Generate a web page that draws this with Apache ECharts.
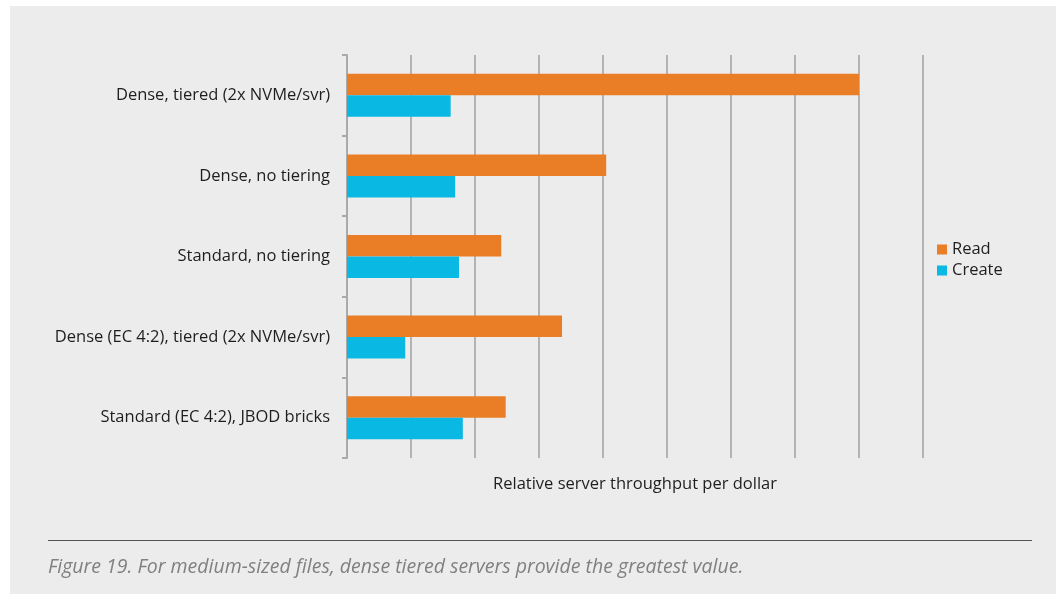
<!DOCTYPE html>
<html>
<head>
<meta charset="utf-8">
<script src="https://cdn.jsdelivr.net/npm/echarts@6/dist/echarts.min.js"></script>
<style>
html,body{margin:0;padding:0;background:#ffffff;}
#chart{width:1059px;height:596px;}
</style>
</head>
<body>
<div id="chart"></div>
<script>
const categories = [
  "Dense, tiered (2x NVMe/svr)",
  "Dense, no tiering",
  "Standard, no tiering",
  "Dense (EC 4:2), tiered (2x NVMe/svr)",
  "Standard (EC 4:2), JBOD bricks"
];
const readValues = [8.0, 4.05, 2.41, 3.36, 2.48];
const createValues = [1.62, 1.69, 1.75, 0.91, 1.81];
const seriesNames = ["Read", "Create"];
const axisTitle = "Relative server throughput per dollar";
const caption = "Figure 19. For medium-sized files, dense tiered servers provide the greatest value.";

const chart = echarts.init(document.getElementById('chart'), null, {renderer: 'canvas'});
const font = "'Open Sans', sans-serif";
chart.setOption({
  backgroundColor: '#ffffff',
  animation: false,
  textStyle: {fontFamily: font},
  graphic: [
    {type: 'rect', z: -10, silent: true, shape: {x: 10, y: 6, width: 1046, height: 588}, style: {fill: '#ececec'}},
    {type: 'line', silent: true, shape: {x1: 48, y1: 540.5, x2: 1032, y2: 540.5}, style: {stroke: '#555555', lineWidth: 1}},
    {type: 'text', silent: true, left: 48, top: 557, style: {text: caption, fill: '#808080', font: "italic 19.5px " + font}}
  ],
  grid: {left: 347, right: 136, top: 55, bottom: 138, containLabel: false},
  legend: {
    orient: 'vertical', left: 932, top: 236,
    itemWidth: 10, itemHeight: 10, itemGap: 4,
    icon: 'rect',
    textStyle: {fontSize: 16.5, color: '#1e1e1e', fontFamily: font},
    data: seriesNames
  },
  xAxis: {
    type: 'value', min: 0, max: 9, interval: 1,
    name: axisTitle, nameLocation: 'middle', nameGap: 18,
    nameTextStyle: {fontSize: 16.5, color: '#1e1e1e', fontFamily: font},
    axisLine: {show: false}, axisTick: {show: false}, axisLabel: {show: false},
    splitLine: {show: true, lineStyle: {color: '#b3b3b3', width: 2}}
  },
  yAxis: {
    type: 'category', inverse: true, data: categories,
    axisLine: {show: true, lineStyle: {color: '#aaaaaa', width: 2}},
    axisTick: {show: true, length: 5, lineStyle: {color: '#aaaaaa', width: 2}},
    axisLabel: {fontSize: 16.5, color: '#1e1e1e', margin: 17, fontFamily: font}
  },
  series: [
    {name: seriesNames[0], type: 'bar', data: readValues, barWidth: 21.5, barGap: '0%', itemStyle: {color: '#ea7e26'}},
    {name: seriesNames[1], type: 'bar', data: createValues, barWidth: 21.5, barGap: '0%', itemStyle: {color: '#0ab9e3'}}
  ]
});
</script>
</body>
</html>
